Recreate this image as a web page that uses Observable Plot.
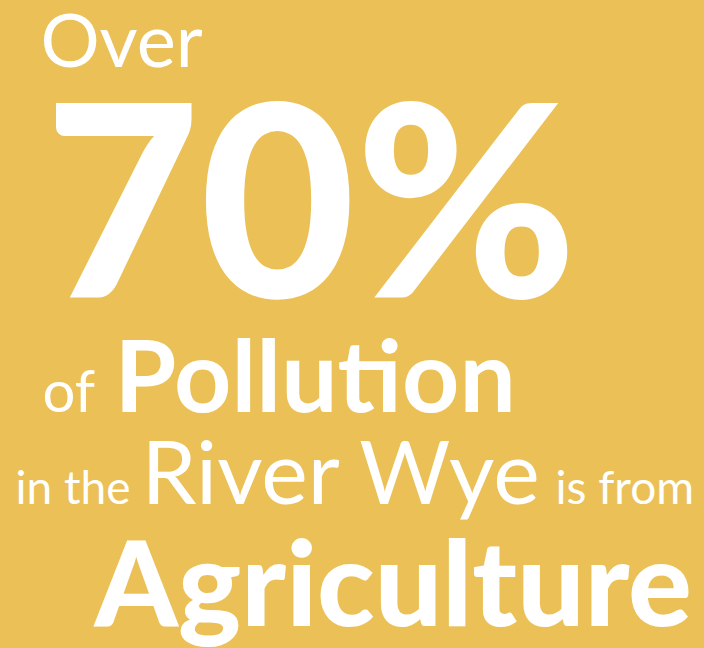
<!DOCTYPE html>
<html>
<head>
<meta charset="utf-8">
<script src="https://cdn.jsdelivr.net/npm/d3@7"></script>
<script src="https://cdn.jsdelivr.net/npm/@observablehq/plot@0.6"></script>
<style>
  html, body { margin: 0; padding: 0; background: #EBC157; }
  #chart svg { display: block; }
</style>
</head>
<body>
<div id="chart"></div>
<script>
// Content of the infographic
const share = [70];                                   // percent from agriculture
const lines = ["Over", "of", "Pollution", "in the", "River Wye", "is from", "Agriculture"];

// Layout (baseline positions, in pixels)
const layout = [
  {text: lines[0], x: 40,  y: 66,  size: 74,  weight: 400},
  {text: share[0] + "%", x: 44, y: 297, size: 268, weight: 900},
  {text: lines[1], x: 42,  y: 411, size: 58,  weight: 400},
  {text: lines[2], x: 114, y: 411, size: 100, weight: 700},
  {text: lines[3], x: 15,  y: 503, size: 46,  weight: 400},
  {text: lines[4], x: 141, y: 503, size: 88,  weight: 400},
  {text: lines[5], x: 555, y: 503, size: 46,  weight: 400},
  {text: lines[6], x: 94,  y: 625, size: 119, weight: 900}
];

const weights = [400, 700, 900];
const chart = Plot.plot({
  width: 704,
  height: 648,
  margin: 0,
  x: {domain: [0, 704], range: [0, 704], axis: null},
  y: {domain: [0, 648], range: [0, 648], axis: null},
  style: {background: "#EBC157"},
  marks: weights.map(w => Plot.text(layout.filter(d => d.weight === w), {
    x: "x", y: "y", text: "text", fontSize: "size",
    fontWeight: w, fontFamily: "Lato", fill: "white",
    textAnchor: "start", lineAnchor: "bottom"
  }))
});
document.getElementById("chart").append(chart);
</script>
</body>
</html>
